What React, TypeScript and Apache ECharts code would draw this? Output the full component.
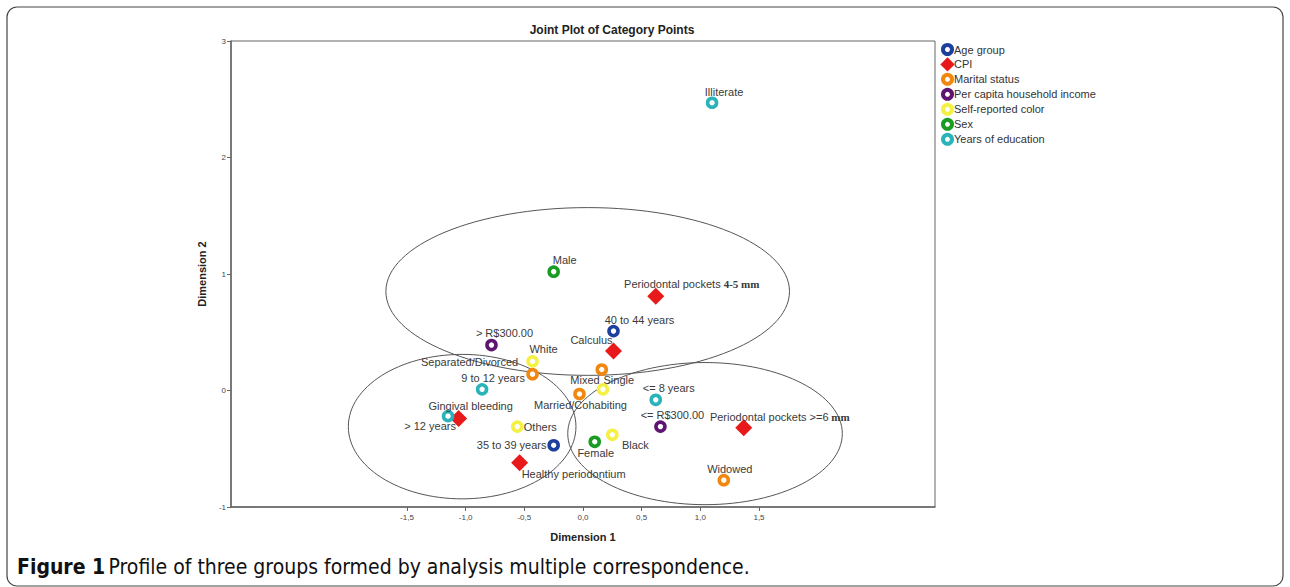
import React, { useEffect, useRef } from "react";
import * as echarts from "echarts";

// ---- data (Dimension 1, Dimension 2) ----
const seriesNames = [
  "Age group",
  "CPI",
  "Marital status",
  "Per capita household income",
  "Self-reported color",
  "Sex",
  "Years of education",
];

const ageGroup: [string, number, number][] = [
  ["40 to 44 years", 0.26, 0.51],
  ["35 to 39 years", -0.25, -0.47],
];
const cpi: [string, number, number][] = [
  ["Periodontal pockets 4-5 mm", 0.62, 0.81],
  ["Calculus", 0.26, 0.34],
  ["Gingival bleeding", -1.06, -0.24],
  ["Periodontal pockets >=6 mm", 1.37, -0.32],
  ["Healthy periodontium", -0.54, -0.62],
];
const maritalStatus: [string, number, number][] = [
  ["Separated/Divorced", -0.43, 0.14],
  ["Single", 0.16, 0.18],
  ["Married/Cohabiting", -0.03, -0.03],
  ["Widowed", 1.2, -0.77],
];
const income: [string, number, number][] = [
  ["> R$300.00", -0.78, 0.39],
  ["<= R$300.00", 0.66, -0.31],
];
const selfColor: [string, number, number][] = [
  ["White", -0.43, 0.25],
  ["Mixed", 0.17, 0.01],
  ["Others", -0.56, -0.31],
  ["Black", 0.25, -0.38],
];
const sex: [string, number, number][] = [
  ["Male", -0.25, 1.02],
  ["Female", 0.1, -0.44],
];
const education: [string, number, number][] = [
  ["Illiterate", 1.1, 2.47],
  ["9 to 12 years", -0.86, 0.01],
  ["<= 8 years", 0.62, -0.08],
  ["> 12 years", -1.15, -0.22],
];

// group ellipses: [cx, cy, rx, ry] in data units
const groupEllipses: [number, number, number, number][] = [
  [0.04, 0.85, 1.72, 0.72],
  [-1.03, -0.31, 0.97, 0.62],
  [1.04, -0.37, 1.17, 0.61],
];

const xTickValues = [-1.5, -1.0, -0.5, 0.0, 0.5, 1.0, 1.5];
const yTickValues = [-1, 0, 1, 2, 3];

// ---- styles / layout ----
const colors = ["#1d3f9e", "#e8191b", "#f2870f", "#5e1571", "#f4f044", "#1a9b24", "#2ab3b8"];

const labelOffsets: Record<string, [number, number]> = {
  "40 to 44 years": [26, -11],
  "35 to 39 years": [-42, 0],
  "Periodontal pockets 4-5 mm": [36, -12],
  Calculus: [-22, -11],
  "Gingival bleeding": [12, -12],
  "Periodontal pockets >=6 mm": [36, -11],
  "Healthy periodontium": [54, 11],
  "Separated/Divorced": [-63, -12],
  Single: [17, 10],
  "Married/Cohabiting": [1, 11],
  Widowed: [6, -11],
  "> R$300.00": [13, -12],
  "<= R$300.00": [12, -12],
  White: [11, -12],
  Mixed: [-18, -9],
  Others: [23, 0],
  Black: [23, 10],
  Male: [11, -12],
  Female: [1, 11],
  Illiterate: [12, -11],
  "9 to 12 years": [11, -11],
  "<= 8 years": [13, -12],
  "> 12 years": [-18, 10],
};

const richLabels: Record<string, string> = {
  "Periodontal pockets 4-5 mm": "Periodontal pockets {s|4-5 mm}",
  "Periodontal pockets >=6 mm": "Periodontal pockets >=6{s| mm}",
};

const SANS = "'Liberation Sans', Arial, sans-serif";
const CAPTION = "'DejaVu Sans Condensed', 'Liberation Sans Narrow', sans-serif";

export default function App() {
  const ref = useRef<HTMLDivElement>(null);

  useEffect(() => {
    document.body.style.margin = "0";
    if (!ref.current) return;
    const chart = echarts.init(ref.current, undefined, { renderer: "svg" });

    const groups = [ageGroup, cpi, maritalStatus, income, selfColor, sex, education];

    const pointSeries = groups.map((g, i) => {
      const isDiamond = i === 1;
      return {
        name: seriesNames[i],
        type: "scatter",
        z: 3,
        symbol: isDiamond ? "diamond" : "circle",
        symbolSize: isDiamond ? [17, 17] : 9,
        itemStyle: isDiamond
          ? { color: colors[i], opacity: 1 }
          : { color: "#ffffff", borderColor: colors[i], borderWidth: 3.6, opacity: 1 },
        label: {
          show: true,
          position: "inside",
          fontFamily: SANS,
          fontSize: 11,
          color: "#3a3a3a",
          align: "center",
          verticalAlign: "middle",
          formatter: (p: any) => richLabels[p.name] || p.name,
          rich: {
            s: { fontFamily: "'Liberation Serif', 'Times New Roman', serif", fontSize: 11, fontWeight: "bold", color: "#3a3a3a" },
          },
        },
        data: g.map(([name, x, y]) => ({
          name,
          value: [x, y],
          label: { offset: labelOffsets[name] || [0, -12] },
        })),
      };
    });

    const option: any = {
      animation: false,
      backgroundColor: "#ffffff",
      grid: {
        left: 231,
        right: 355,
        top: 41,
        bottom: 80,
        show: true,
        borderColor: "#666",
        borderWidth: 1,
        backgroundColor: "transparent",
      },
      legend: {
        data: seriesNames.map((n, i) => ({
          name: n,
          itemStyle:
            i === 1
              ? { color: colors[1], borderColor: colors[1], borderWidth: 3.8, opacity: 1 }
              : { color: "#fff", borderColor: colors[i], borderWidth: 4, opacity: 1 },
        })),
        orient: "vertical",
        left: 941,
        top: 43,
        padding: 0,
        itemWidth: 9,
        itemHeight: 9,
        itemGap: 2,
        textStyle: { fontFamily: SANS, fontSize: 11, lineHeight: 12, color: "#333", padding: [0, 0, 0, -3] },
      },
      xAxis: {
        type: "value",
        min: -3,
        max: 3,
        interval: 0.5,
        name: "Dimension 1",
        nameLocation: "middle",
        nameGap: 24,
        nameTextStyle: { fontFamily: SANS, fontSize: 11, fontWeight: "bold", color: "#222" },
        axisLine: { show: true, onZero: false, lineStyle: { color: "#666", width: 1.5 } },
        axisTick: { show: true, customValues: xTickValues, length: 4, lineStyle: { color: "#666" } },
        axisLabel: {
          customValues: xTickValues,
          fontFamily: SANS,
          fontSize: 8,
          color: "#444",
          margin: 6,
          formatter: (v: number) => v.toFixed(1).replace(".", ","),
        },
        splitLine: { show: false },
      },
      yAxis: {
        type: "value",
        min: -1,
        max: 3,
        interval: 1,
        name: "Dimension 2",
        nameLocation: "middle",
        nameGap: 20,
        nameRotate: 90,
        nameTextStyle: { fontFamily: SANS, fontSize: 11, fontWeight: "bold", color: "#222" },
        axisLine: { show: true, onZero: false, lineStyle: { color: "#666", width: 1.5 } },
        axisTick: { show: true, customValues: yTickValues, length: 4, lineStyle: { color: "#666" } },
        axisLabel: {
          customValues: yTickValues,
          fontFamily: SANS,
          fontSize: 8,
          color: "#444",
          margin: 5,
        },
        splitLine: { show: false },
      },
      series: [
        {
          name: "groups",
          type: "custom",
          z: 1,
          silent: true,
          encode: { x: 0, y: 1 },
          renderItem: (params: any, api: any) => {
            const c = api.coord([api.value(0), api.value(1)]);
            const s = api.size([api.value(2), api.value(3)]);
            return {
              type: "ellipse",
              shape: { cx: c[0], cy: c[1], rx: s[0], ry: s[1] },
              style: { fill: "none", stroke: "#555", lineWidth: 1 },
            };
          },
          data: groupEllipses,
        },
        ...pointSeries,
      ],
      graphic: [
        {
          type: "rect",
          shape: { x: 7, y: 7, width: 1276, height: 579, r: 10 },
          style: { fill: "none", stroke: "#444", lineWidth: 1.2 },
          silent: true,
        },
        {
          type: "text",
          x: 612,
          y: 30,
          style: {
            text: "Joint Plot of Category Points",
            fontFamily: SANS,
            fontSize: 12,
            fontWeight: "bold",
            fill: "#222",
            align: "center",
            verticalAlign: "middle",
          },
        },
        {
          type: "text",
          x: 17,
          y: 567,
          style: {
            text: "{b|Figure 1} {r|Profile of three groups formed by analysis multiple correspondence.}",
            verticalAlign: "middle",
            rich: {
              b: { fontFamily: CAPTION, fontSize: 21, fontWeight: "bold", fill: "#111" },
              r: { fontFamily: CAPTION, fontSize: 21, fill: "#111" },
            },
          },
        },
      ],
    };

    chart.setOption(option);
    return () => chart.dispose();
  }, []);

  return <div ref={ref} style={{ width: 1290, height: 587 }} />;
}
